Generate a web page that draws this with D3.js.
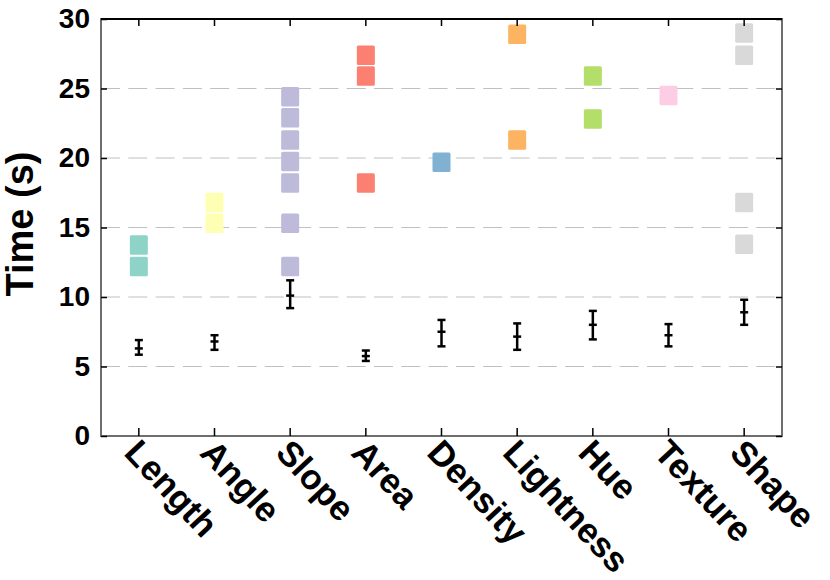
<!DOCTYPE html>
<html>
<head>
<meta charset="utf-8">
<script src="https://cdn.jsdelivr.net/npm/d3@7"></script>
<style>
  body { margin: 0; background: #fff; }
  text { font-family: "Liberation Sans", Arial, sans-serif; font-weight: bold; }
</style>
</head>
<body>
<svg id="chart"></svg>
<script>
var svg_width = 830
var svg_height = 580
var margin = {top: 19, right: 48, bottom: 144, left: 101}

// DATA
var categories = ["Length", "Angle", "Slope", "Area", "Density", "Lightness", "Hue", "Texture", "Shape"]
var points = [
    [13.75, 12.2],
    [16.8, 15.3],
    [24.4, 22.9, 21.3, 19.75, 18.2, 15.3, 12.2],
    [27.4, 25.9, 18.2],
    [19.7],
    [28.9, 21.3],
    [25.9, 22.8],
    [24.5],
    [29.0, 27.4, 16.8, 13.8]
]
var means = [6.3, 6.8, 10.1, 5.75, 7.5, 7.15, 8.0, 7.25, 8.9]
var highs = [6.9, 7.25, 11.2, 6.15, 8.35, 8.1, 9.0, 8.05, 9.8]
var lows = [5.85, 6.2, 9.2, 5.4, 6.45, 6.2, 6.95, 6.45, 8.0]
var yTicks = [0, 5, 10, 15, 20, 25, 30]

var plotW = svg_width - margin.left - margin.right
var plotH = svg_height - margin.top - margin.bottom

//SCALES
var xScale = d3.scaleBand()
               .domain(categories)
               .range([margin.left, margin.left + plotW])

var yScale = d3.scaleLinear()
               .domain([0, 30])
               .range([margin.top + plotH, margin.top])

var colorScale = d3.scaleOrdinal()
                   .domain(categories)
                   .range(d3.schemeSet3)

function cx(c) { return xScale(c) + xScale.bandwidth() / 2 }

var svg = d3.select("#chart")
    .attr("width", svg_width)
    .attr("height", svg_height)

// grid lines
svg.append("g")
    .selectAll("line")
    .data(yTicks.filter(function(t) { return t > 0 && t < 30 }))
    .enter()
    .append("line")
      .attr("x1", margin.left)
      .attr("x2", margin.left + plotW)
      .attr("y1", function(d) { return yScale(d) })
      .attr("y2", function(d) { return yScale(d) })
      .attr("stroke", "#b0b0b0")
      .attr("stroke-width", 0.8)
      .attr("stroke-dasharray", "19,8.3")

// squares for individual values
var sqW = 18, sqH = 19.5
categories.forEach(function(c, i) {
    svg.append("g")
      .selectAll("rect")
      .data(points[i])
      .enter()
      .append("rect")
        .attr("x", cx(c) - sqW / 2)
        .attr("y", function(d) { return yScale(d) - sqH / 2 })
        .attr("width", sqW)
        .attr("height", sqH)
        .attr("rx", 1.5)
        .attr("fill", colorScale(c))
})

// error bars
var eb = svg.append("g")
    .selectAll("g")
    .data(categories)
    .enter()
    .append("g")
      .attr("stroke", "black")
      .attr("stroke-width", 2.5)

eb.append("line")
    .attr("x1", function(d) { return cx(d) })
    .attr("x2", function(d) { return cx(d) })
    .attr("y1", function(d, i) { return yScale(lows[i]) })
    .attr("y2", function(d, i) { return yScale(highs[i]) })

;[lows, highs, means].forEach(function(arr) {
    eb.append("line")
        .attr("x1", function(d) { return cx(d) - 4 })
        .attr("x2", function(d) { return cx(d) + 4 })
        .attr("y1", function(d, i) { return yScale(arr[i]) })
        .attr("y2", function(d, i) { return yScale(arr[i]) })
})

// FRAME & AXES
var frame = svg.append("g")
frame.append("rect")
    .attr("x", margin.left)
    .attr("y", margin.top)
    .attr("width", plotW)
    .attr("height", plotH)
    .attr("fill", "none")
    .attr("stroke", "#6e6e6e")
    .attr("stroke-width", 2)
frame.append("line")
    .attr("x1", margin.left)
    .attr("x2", margin.left + plotW)
    .attr("y1", margin.top)
    .attr("y2", margin.top)
    .attr("stroke", "black")
    .attr("stroke-width", 2)

// left axis
var yAxis = d3.axisLeft(yScale)
              .tickValues(yTicks)
              .tickSize(-6)
              .tickSizeOuter(0)
              .tickPadding(11)
var gy = svg.append("g")
    .attr("transform", "translate(" + margin.left + ",0)")
    .call(yAxis)
gy.select(".domain").remove()
gy.selectAll("line").attr("stroke", "black").attr("stroke-width", 1.5)
gy.selectAll("text")
    .attr("font-size", "28px")
    .attr("font-family", "Liberation Sans, Arial, sans-serif")
    .attr("font-weight", "bold")
    .attr("fill", "black")

// right axis ticks
var gr = svg.append("g")
    .attr("transform", "translate(" + (margin.left + plotW) + ",0)")
    .call(d3.axisRight(yScale).tickValues(yTicks).tickSize(-6).tickFormat(""))
gr.select(".domain").remove()
gr.selectAll("line").attr("stroke", "black").attr("stroke-width", 1.5)

// top axis ticks
var gt = svg.append("g")
    .attr("transform", "translate(0," + margin.top + ")")
    .call(d3.axisTop(xScale).tickSize(-7).tickFormat(""))
gt.select(".domain").remove()
gt.selectAll("line").attr("stroke", "black").attr("stroke-width", 1.5)

// bottom axis
var gx = svg.append("g")
    .attr("transform", "translate(0," + (margin.top + plotH) + ")")
    .call(d3.axisBottom(xScale).tickSize(-8).tickSizeOuter(0))
gx.select(".domain").remove()
gx.selectAll("line").attr("stroke", "black").attr("stroke-width", 1.5)
gx.selectAll("text")
    .attr("font-size", "35px")
    .attr("font-family", "Liberation Sans, Arial, sans-serif")
    .attr("font-weight", "bold")
    .attr("fill", "black")
    .attr("text-anchor", "start")
    .attr("x", 0)
    .attr("y", 0)
    .attr("dy", 0)
    .attr("transform", "translate(-16,18) rotate(47)")

// y label
svg.append("text")
    .attr("transform", "rotate(-90)")
    .attr("x", -224)
    .attr("y", 33)
    .attr("text-anchor", "middle")
    .attr("font-size", "38px")
    .text("Time (s)")
</script>
</body>
</html>
